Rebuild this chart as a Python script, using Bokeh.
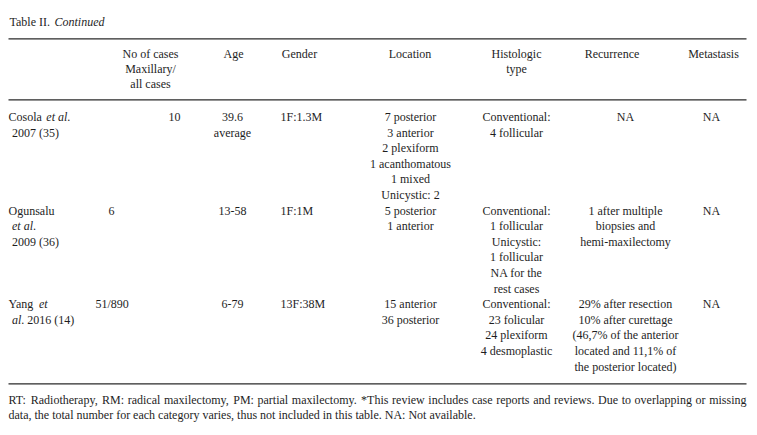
from bokeh.plotting import figure
from bokeh.models import Range1d, ColumnDataSource
from bokeh.core.properties import value
from bokeh.embed import file_html
from bokeh.resources import INLINE

# ---------------- data ----------------
title_plain = "Table II."
title_italic = "Continued"

header_cases = ["No of cases", "Maxillary/", "all cases"]
header_age = ["Age"]
header_gender = ["Gender"]
header_location = ["Location"]
header_histology = ["Histologic", "type"]
header_recurrence = ["Recurrence"]
header_metastasis = ["Metastasis"]

# study cell: lines of (text, italic) segments
studies = [
    [[("Cosola ", False), ("et al", True), (".", False)], [("2007 (35)", False)]],
    [[("Ogunsalu", False)], [("et al", True), (".", False)], [("2009 (36)", False)]],
    [[("Yang ", False), ("et", True)], [("al", True), (". 2016 (14)", False)]],
]
cases = ["10", "6", "51/890"]
ages = [["39.6", "average"], ["13-58"], ["6-79"]]
genders = ["1F:1.3M", "1F:1M", "13F:38M"]
locations = [
    ["7 posterior", "3 anterior", "2 plexiform", "1 acanthomatous", "1 mixed", "Unicystic: 2"],
    ["5 posterior", "1 anterior"],
    ["15 anterior", "36 posterior"],
]
histology = [
    ["Conventional:", "4 follicular"],
    ["Conventional:", "1 follicular", "Unicystic:", "1 follicular", "NA for the", "rest cases"],
    ["Conventional:", "23 folicular", "24 plexiform", "4 desmoplastic"],
]
recurrence = [
    ["NA"],
    ["1 after multiple", "biopsies and", "hemi-maxilectomy"],
    ["29% after resection", "10% after curettage", "(46,7% of the anterior",
     "located and 11,1% of", "the posterior located)"],
]
metastasis = ["NA", "NA", "NA"]

footnote_1 = ("RT: Radiotherapy, RM: radical maxilectomy, PM: partial maxilectomy. *This review "
              "includes case reports and reviews. Due to overlapping or missing")
footnote_2 = ("data, the total number for each category varies, thus not included in this table. "
              "NA: Not available.")

# ---------------- layout helpers ----------------
FS = 12
FONT = "Liberation Serif"
ROMAN = {' ': 250, '!': 333, '%': 833, '(': 333, ')': 333, '*': 500, ',': 250, '-': 333, '.': 250,
         '/': 278, ':': 278, ';': 278, 'A': 722, 'B': 667, 'C': 667, 'D': 722, 'E': 611, 'F': 556,
         'G': 722, 'H': 722, 'I': 333, 'J': 389, 'K': 722, 'L': 611, 'M': 889, 'N': 722, 'O': 722,
         'P': 556, 'Q': 722, 'R': 667, 'S': 556, 'T': 611, 'U': 722, 'V': 722, 'W': 944, 'X': 722,
         'Y': 722, 'Z': 611, 'a': 444, 'b': 500, 'c': 444, 'd': 500, 'e': 444, 'f': 333, 'g': 500,
         'h': 500, 'i': 278, 'j': 278, 'k': 500, 'l': 278, 'm': 778, 'n': 500, 'o': 500, 'p': 500,
         'q': 500, 'r': 333, 's': 389, 't': 278, 'u': 500, 'v': 500, 'w': 722, 'x': 500, 'y': 500,
         'z': 444}
ITALIC = dict(ROMAN)
ITALIC.update({'a': 500, 'e': 444, 't': 278, 'l': 278, 'C': 667, 'o': 500, 'n': 500, 'i': 278,
               'u': 500, 'd': 500})


def width(s, italic=False):
    tab = ITALIC if italic else ROMAN
    return sum(tab.get(ch, 500) for ch in s) * FS / 1000.0


recs = dict(x=[], y=[], text=[], style=[], align=[])


def put(x, y, t, align="left", italic=False):
    recs["x"].append(x)
    recs["y"].append(y)
    recs["text"].append(t)
    recs["style"].append("italic" if italic else "normal")
    recs["align"].append(align)


LEFT, RIGHT = 8, 746
LINE0, LH = 116.5, 15.6
HEAD0, HLH = 53.0, 15.2

# title
put(9, 21.5, title_plain)
put(54, 21.5, title_italic, italic=True)

# header
for lines, cx in [(header_cases, 150), (header_age, 233), (header_gender, 299),
                  (header_location, 409.5), (header_histology, 516),
                  (header_recurrence, 611.5), (header_metastasis, 713)]:
    for i, t in enumerate(lines):
        put(cx, HEAD0 + i * HLH, t, "center")

# body rows
case_pos = [("right", 180), ("left", 108), ("left", 95)]
row_start = 0
for r in range(len(studies)):
    def ly(i):
        return LINE0 + (row_start + i) * LH
    for i, segs in enumerate(studies[r]):
        x = LEFT if i == 0 else LEFT + 3.5
        for t, it in segs:
            put(x, ly(i), t, "left", it)
            x += width(t, it) + (1.5 if t.endswith(" ") else 0)
    al, cx = case_pos[r]
    put(cx, ly(0), cases[r], al)
    for i, t in enumerate(ages[r]):
        put(232, ly(i), t, "center")
    put(280, ly(0), genders[r], "left")
    for i, t in enumerate(locations[r]):
        put(410, ly(i), t, "center")
    for i, t in enumerate(histology[r]):
        put(516, ly(i), t, "center")
    for i, t in enumerate(recurrence[r]):
        put(625, ly(i), t, "center")
    put(711, ly(0), metastasis[r], "center")
    n = max(len(studies[r]), len(ages[r]), len(locations[r]), len(histology[r]), len(recurrence[r]))
    row_start += n

# footnote (first line justified)
words = footnote_1.split(" ")
wsum = sum(width(w) for w in words)
gap = (RIGHT - LEFT - wsum) / (len(words) - 1)
x = LEFT
for w in words:
    put(x, 399.5, w)
    x += width(w) + gap
put(LEFT, 414.5, footnote_2)

# ---------------- figure ----------------
W, H = 752, 430
p = figure(width=W, height=H, x_range=Range1d(0, W), y_range=Range1d(H, 0),
           x_axis_type=None, y_axis_type=None, toolbar_location=None,
           output_backend="svg", min_border=0)
p.outline_line_color = None
p.background_fill_color = "white"
p.border_fill_color = "white"

p.segment(x0=[LEFT] * 3, x1=[RIGHT] * 3, y0=[38.3, 99.3, 383.3], y1=[38.3, 99.3, 383.3],
          line_color="#2a2a2a", line_width=1.2)

src = ColumnDataSource(recs)
p.text(x="x", y="y", text="text", source=src, text_font=value(FONT), text_font_size=f"{FS}px",
       text_font_style="style", text_align="align", text_baseline="middle", text_color="#1e1e1e")

open("out.html", "w").write(file_html(p, INLINE))
